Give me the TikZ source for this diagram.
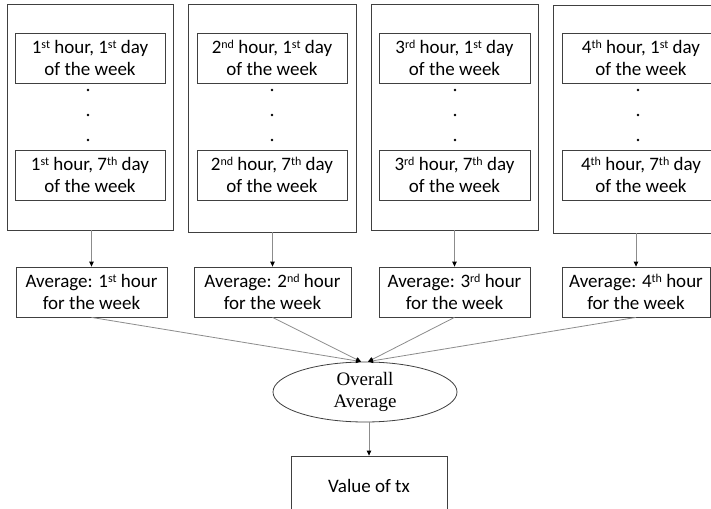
\documentclass[tikz,border=0pt]{standalone}
\usepackage{fontspec}
\setmainfont{Carlito}
\newfontfamily\timesfam{Liberation Serif}
\usetikzlibrary{arrows.meta,shapes.geometric}
\definecolor{boxline}{HTML}{404040}
\definecolor{conn}{HTML}{8C8C8C}
\newcommand{\supr}[1]{\raisebox{0.55ex}{\fontsize{12}{12}\selectfont #1}}
\begin{document}
\begin{tikzpicture}[x=1pt,y=-1pt,
  outerbox/.style={draw=boxline,line width=0.9pt,inner sep=0pt},
  innerbox/.style={draw=boxline,line width=0.8pt,inner sep=0pt,minimum height=50,align=center,
    font=\fontsize{19}{22}\selectfont},
  ovalbox/.style={ellipse,draw=boxline,line width=0.8pt,inner sep=0pt,minimum width=184,minimum height=60,
    align=center,font=\timesfam\fontsize{19}{22}\selectfont},
  conline/.style={draw=conn,line width=0.8pt,-{Triangle[length=5pt,width=4.5pt,color=black]}},
  dotmark/.style={fill=black}]
\clip (0,0) rectangle (711,508);
\fill[white] (0,0) rectangle (711,508);
% outer boxes
\node[outerbox,minimum width=166,minimum height=226] (o1) at (90,117) {};
\node[outerbox,minimum width=168,minimum height=228] (o2) at (272,118) {};
\node[outerbox,minimum width=167,minimum height=226] (o3) at (454.5,117) {};
\node[outerbox,minimum width=176,minimum height=228] (o4) at (641,119) {};
% inner boxes
\node[innerbox,minimum width=150] (t1) at (90,58) {1\supr{st} hour, 1\supr{st} day\\of the week};
\node[innerbox,minimum width=150] (b1) at (90,175) {1\supr{st} hour, 7\supr{th} day\\of the week};
\node[innerbox,minimum width=150] (t2) at (272,58) {2\supr{nd} hour, 1\supr{st} day\\of the week};
\node[innerbox,minimum width=150] (b2) at (272,175) {2\supr{nd} hour, 7\supr{th} day\\of the week};
\node[innerbox,minimum width=151] (t3) at (454.5,58) {3\supr{rd} hour, 1\supr{st} day\\of the week};
\node[innerbox,minimum width=151] (b3) at (454.5,175) {3\supr{rd} hour, 7\supr{th} day\\of the week};
\node[innerbox,minimum width=158] (t4) at (641,58) {4\supr{th} hour, 1\supr{st} day\\of the week};
\node[innerbox,minimum width=158] (b4) at (641,175) {4\supr{th} hour, 7\supr{th} day\\of the week};
% dots
\foreach \xx in {88,272,455,638}{
  \foreach \yy in {90,115,140}{\fill[dotmark] (\xx,\yy) circle (1.3);}
}
% average boxes
\node[innerbox,minimum width=151] (a1) at (91.5,292) {Average: 1\supr{st} hour\\for the week};
\node[innerbox,minimum width=157] (a2) at (272.5,292) {Average: 2\supr{nd} hour\\for the week};
\node[innerbox,minimum width=151] (a3) at (454.5,292) {Average: 3\supr{rd} hour\\for the week};
\node[innerbox,minimum width=148] (a4) at (636,292) {Average: 4\supr{th} hour\\for the week};
% overall
\node[ovalbox] (ov) at (365,392) {Overall\\Average};
\node[innerbox,minimum width=156,minimum height=60] (val) at (369,486) {Value of tx};
% connectors
\draw[conline] (o1.south -| a1.north) -- (a1.north);
\draw[conline] (o2.south -| a2.north) -- (a2.north);
\draw[conline] (o3.south -| a3.north) -- (a3.north);
\draw[conline] (o4.south -| a4.north) -- (a4.north);
\coordinate (inL) at ([xshift=-4pt]ov.north);
\coordinate (inR) at ([xshift=3pt]ov.north);
\draw[conline] (a1.south) -- (inL);
\draw[conline] (a2.south) -- (inL);
\draw[conline] (a3.south) -- (inR);
\draw[conline] (a4.south) -- (inR);
\draw[conline] (ov.south -| val.north) -- (val.north);
\end{tikzpicture}
\end{document}
